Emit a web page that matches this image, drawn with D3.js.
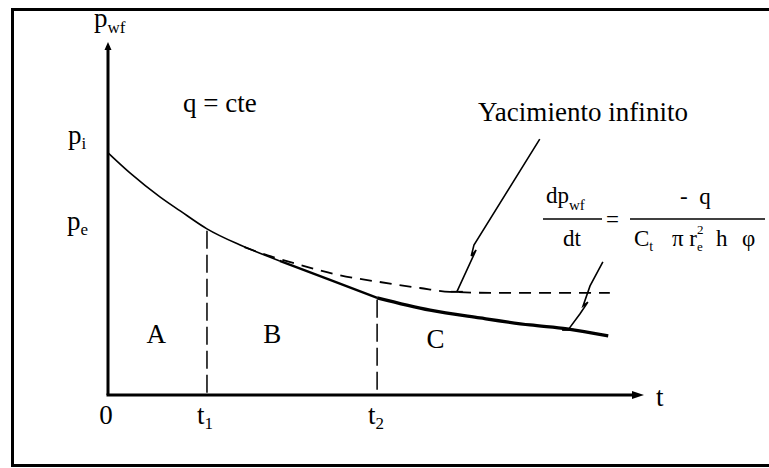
<!DOCTYPE html>
<html>
<head>
<meta charset="UTF-8">
<style>
body {
	margin: 0 ;
	background-color: #ffffff ;
}
</style>
<script src="https://cdn.jsdelivr.net/npm/d3@7"></script>
</head>
<body>
<div id="chart"></div>
<script type="text/javascript" charset="utf-8">

	// pressure curve with boundaries
	const times     = [ 0, 0.41, 0.97, 1.35, 1.85, 2.47, 3.21, 4.15, 5.03, 6.02, 6.95, 7.89, 8.58, 9.35 ] ;
	const pressures = [ 6.88, 6.31, 5.63, 5.23, 4.72, 4.26, 3.81, 3.27, 2.76, 2.41, 2.19, 1.99, 1.88, 1.68 ] ;

	// infinite reservoir branch (dashed)
	const infTimes     = [ 2.55, 2.90, 3.53, 4.34, 5.08, 5.83, 6.39, 7.33, 9.38 ] ;
	const infPressures = [ 4.20, 4.01, 3.72, 3.40, 3.21, 3.04, 2.93, 2.90, 2.90 ] ;

	const t1 = 1.85 ;
	const t2 = 5.03 ;
	const pi = 6.88 ;
	const pe = 4.45 ;

	const regionLabels = [ "A", "B", "C" ] ;
	const regionTimes  = [ 0.90, 3.07, 6.12 ] ;
	const regionLevels = [ 1.47, 1.47, 1.33 ] ;

	// leader lines for the notes, in data units
	const infPointer  = [ [8.07, 7.27], [6.84, 4.26], [6.79, 3.95], [6.88, 4.12], [6.52, 2.93] ] ;
	const bndPointer  = [ [9.25, 3.78], [9.01, 3.10], [8.88, 2.53], [8.97, 2.64], [8.82, 2.30], [8.60, 1.85] ] ;

	const width = 769 ;
	const height = 468 ;
	const serif = "Liberation Serif, DejaVu Serif, Times New Roman, Times, serif" ;

	const x = d3.scaleLinear().domain( [0, 10] ).range( [108, 643] ) ;
	const y = d3.scaleLinear().domain( [0, 10] ).range( [395, 43] ) ;

	const svg = d3.select( "#chart" ).append( "svg" )
		.attr( "width", width )
		.attr( "height", height )
		.attr( "font-family", serif )
		.attr( "fill", "#000" )
		.style( "display", "block" ) ;

	svg.append( "rect" ).attr( "width", width ).attr( "height", height ).attr( "fill", "#fff" ) ;

	// frame (no right side visible)
	svg.append( "path" )
		.attr( "d", "M" + (width + 5) + ",9.5H12.5V465.5H" + (width + 5) )
		.attr( "fill", "none" )
		.attr( "stroke", "#000" )
		.attr( "stroke-width", 3 ) ;

	// axes
	svg.append( "line" )
		.attr( "x1", x(0) ).attr( "y1", y(0) )
		.attr( "x2", x(0) ).attr( "y2", y(10) + 3 )
		.attr( "stroke", "#000" ).attr( "stroke-width", 3 ) ;
	svg.append( "path" )
		.attr( "d", "M" + x(0) + "," + (y(10) - 1) + "l-3.5,8h7z" )
		.attr( "fill", "#000" ) ;

	svg.append( "line" )
		.attr( "x1", x(0) - 1.5 ).attr( "y1", y(0) )
		.attr( "x2", x(10) - 6 ).attr( "y2", y(0) )
		.attr( "stroke", "#000" ).attr( "stroke-width", 3 ) ;
	svg.append( "path" )
		.attr( "d", "M" + (x(10) + 1) + "," + y(0) + "l-12,-4v8z" )
		.attr( "fill", "#000" ) ;

	// main curve, thicker as it goes
	const pts = times.map( function(t, i) { return [ t, pressures[i] ] } ) ;
	const line = d3.line()
		.x( function(d) { return x(d[0]) } )
		.y( function(d) { return y(d[1]) } )
		.curve( d3.curveMonotoneX ) ;

	const pieces = [
		{ from: 0,  to: 3.21, w: 1.6 },
		{ from: 3.21, to: t2, w: 2.4 },
		{ from: t2, to: 10, w: 3.2 }
	] ;
	pieces.forEach( function(p) {
		svg.append( "path" )
			.attr( "d", line( pts.filter( function(d) { return d[0] >= p.from - 1e-6 && d[0] <= p.to + 1e-6 } ) ) )
			.attr( "fill", "none" )
			.attr( "stroke", "#000" )
			.attr( "stroke-width", p.w ) ;
	}) ;

	// infinite reservoir, dashed
	const infPts = infTimes.map( function(t, i) { return [ t, infPressures[i] ] } ) ;
	svg.append( "path" )
		.attr( "d", line( infPts ) )
		.attr( "fill", "none" )
		.attr( "stroke", "#000" )
		.attr( "stroke-width", 1.8 )
		.attr( "stroke-dasharray", "12,8" ) ;

	// t1 / t2 guides
	const guideLevel = d3.scaleLinear().domain( times ).range( pressures ) ;
	;[ t1, t2 ].forEach( function(t) {
		svg.append( "line" )
			.attr( "x1", x(t) ).attr( "x2", x(t) )
			.attr( "y1", y( guideLevel(t) ) + 2 ).attr( "y2", y(0) )
			.attr( "stroke", "#000" )
			.attr( "stroke-width", 1.5 )
			.attr( "stroke-dasharray", "18,6" ) ;
	}) ;

	// leader lines
	const plain = d3.line()
		.x( function(d) { return x(d[0]) } )
		.y( function(d) { return y(d[1]) } ) ;
	;[ infPointer, bndPointer ].forEach( function(ptr) {
		svg.append( "path" )
			.attr( "d", plain( ptr ) )
			.attr( "fill", "none" )
			.attr( "stroke", "#000" )
			.attr( "stroke-width", 1.6 ) ;
		const end = ptr[ ptr.length - 1 ] ;
		svg.append( "line" )
			.attr( "x1", x(end[0]) - 6 ).attr( "x2", x(end[0]) + 6 )
			.attr( "y1", y(end[1]) ).attr( "y2", y(end[1]) )
			.attr( "stroke", "#000" ).attr( "stroke-width", 2 ) ;
	}) ;

	// text helpers
	function sub( sel, base, s, size, dy ) {
		sel.append( "tspan" ).text( base ) ;
		sel.append( "tspan" ).attr( "font-size", size ).attr( "dy", dy ).text( s ) ;
		return sel ;
	}
	const big = 27 ;

	sub( svg.append( "text" ).attr( "x", 94 ).attr( "y", 27 ).attr( "font-size", big ), "p", "wf", 17, 6 ) ;
	sub( svg.append( "text" ).attr( "x", 68 ).attr( "y", y(pi) - 9 ).attr( "font-size", big ), "p", "i", 17, 5 ) ;
	sub( svg.append( "text" ).attr( "x", 67 ).attr( "y", y(pe) - 8 ).attr( "font-size", big ), "p", "e", 17, 5 ) ;

	svg.append( "text" ).attr( "x", 183 ).attr( "y", 112 ).attr( "font-size", big ).text( "q = cte" ) ;
	svg.append( "text" ).attr( "x", 478 ).attr( "y", 121 ).attr( "font-size", big )
		.attr( "textLength", 210 ).attr( "lengthAdjust", "spacing" )
		.text( "Yacimiento infinito" ) ;

	svg.selectAll( "text.region" )
		.data( regionLabels )
		.enter()
		.append( "text" )
			.attr( "class", "region" )
			.attr( "x", function(d, i) { return x( regionTimes[i] ) } )
			.attr( "y", function(d, i) { return y( regionLevels[i] ) } )
			.attr( "text-anchor", "middle" )
			.attr( "font-size", big )
			.text( function(d) { return d } ) ;

	// time labels
	svg.append( "text" ).attr( "x", x(0) - 2 ).attr( "y", 424 ).attr( "text-anchor", "middle" ).attr( "font-size", big ).text( "0" ) ;
	sub( svg.append( "text" ).attr( "x", x(t1) - 10 ).attr( "y", 424 ).attr( "font-size", big ), "t", "1", 17, 5 ) ;
	sub( svg.append( "text" ).attr( "x", x(t2) - 9 ).attr( "y", 424 ).attr( "font-size", big ), "t", "2", 17, 5 ) ;
	svg.append( "text" ).attr( "x", 656 ).attr( "y", 406 ).attr( "font-size", big ).text( "t" ) ;

	// formula
	const f = 23 ;
	sub( svg.append( "text" ).attr( "x", 546 ).attr( "y", 203 ).attr( "font-size", f ), "dp", "wf", 15, 7 ) ;
	svg.append( "line" ).attr( "x1", 543 ).attr( "x2", 602 ).attr( "y1", 219 ).attr( "y2", 219 ).attr( "stroke", "#000" ).attr( "stroke-width", 1.5 ) ;
	svg.append( "text" ).attr( "x", 563 ).attr( "y", 246 ).attr( "font-size", f ).text( "dt" ) ;
	svg.append( "text" ).attr( "x", 606 ).attr( "y", 227 ).attr( "font-size", f ).text( "=" ) ;
	svg.append( "text" ).attr( "x", 680 ).attr( "y", 204 ).attr( "font-size", f ).attr( "xml:space", "preserve" ).text( "-  q" ) ;
	svg.append( "line" ).attr( "x1", 630 ).attr( "x2", 765 ).attr( "y1", 219 ).attr( "y2", 219 ).attr( "stroke", "#000" ).attr( "stroke-width", 1.5 ) ;

	const den = svg.append( "text" ).attr( "x", 634 ).attr( "y", 246 ).attr( "font-size", f ) ;
	den.append( "tspan" ).text( "C" ) ;
	den.append( "tspan" ).attr( "font-size", 14 ).attr( "dy", 5 ).text( "t" ) ;
	den.append( "tspan" ).attr( "x", 672 ).attr( "y", 246 ).text( "\u03c0 r" ) ;
	den.append( "tspan" ).attr( "font-size", 13 ).attr( "dy", 5 ).text( "e" ) ;
	den.append( "tspan" ).attr( "x", 697 ).attr( "y", 234 ).attr( "font-size", 13 ).text( "2" ) ;
	den.append( "tspan" ).attr( "x", 716 ).attr( "y", 246 ).text( "h" ) ;
	den.append( "tspan" ).attr( "x", 742 ).attr( "y", 246 ).text( "\u03c6" ) ;

</script>
</body>
</html>
